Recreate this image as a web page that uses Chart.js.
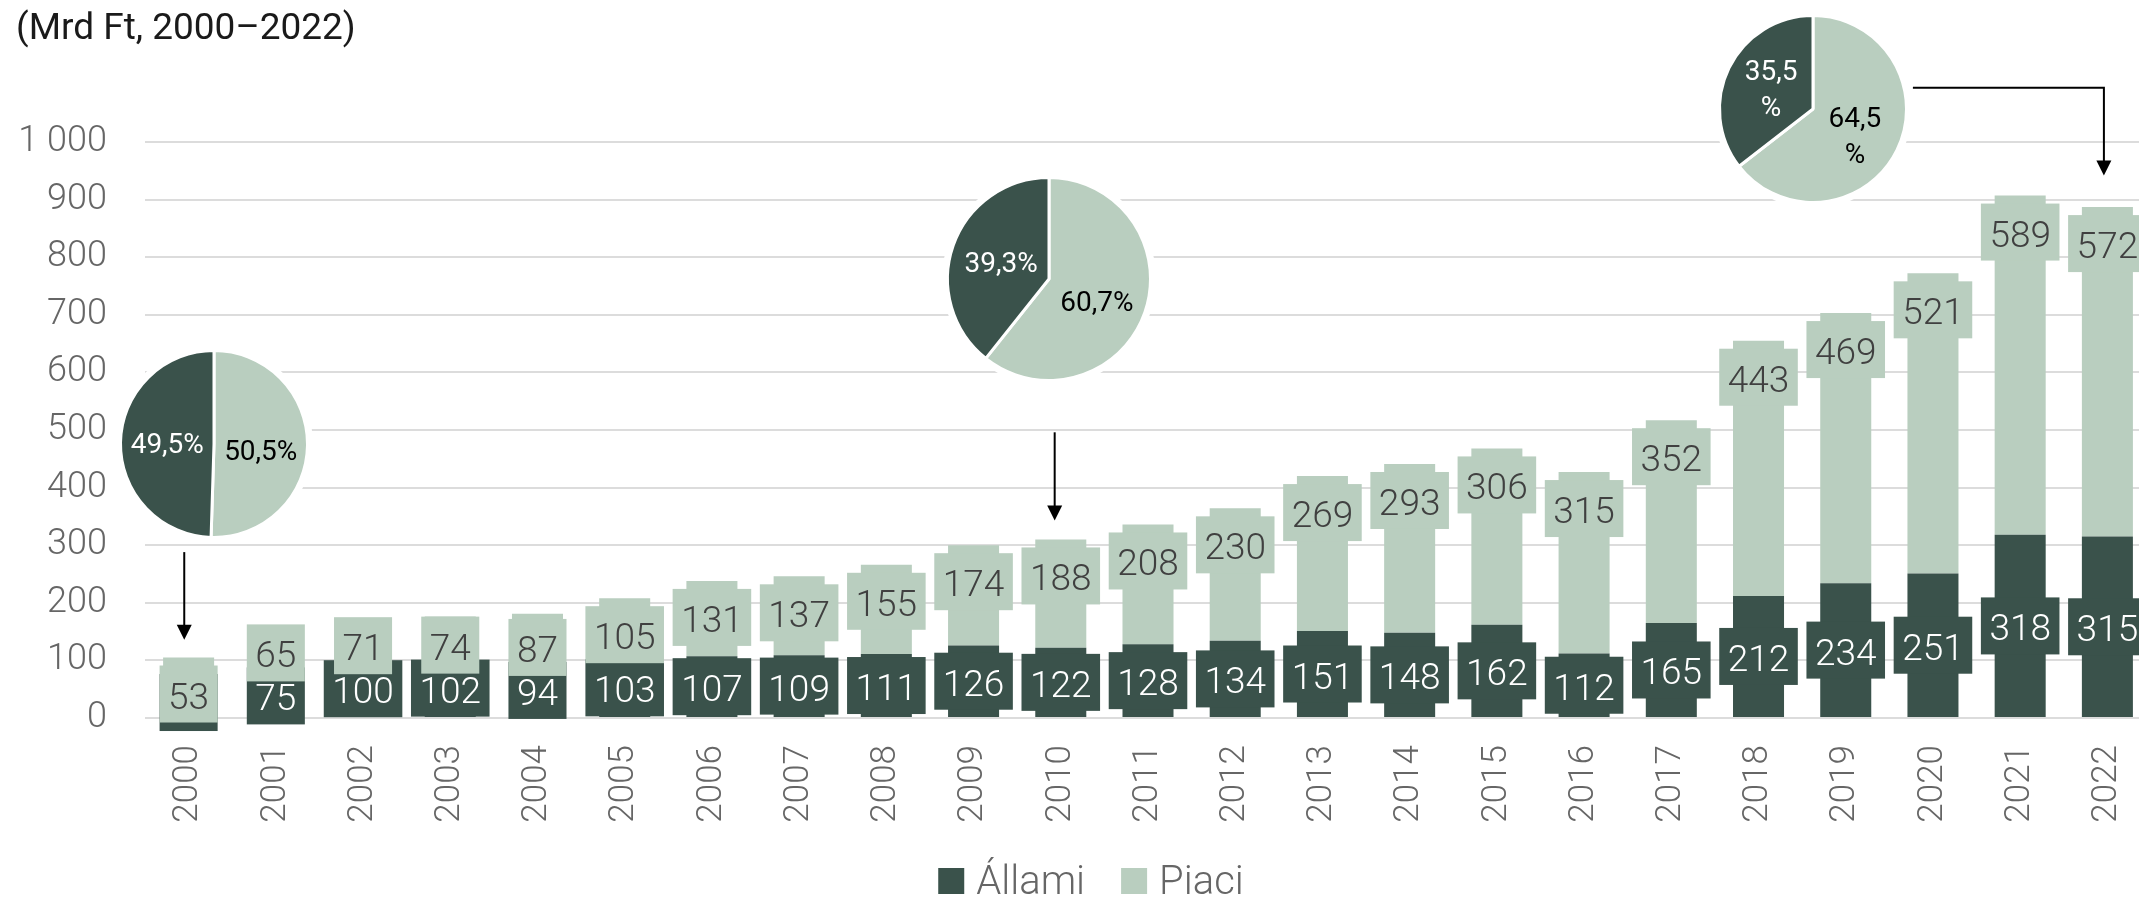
<!DOCTYPE html>
<html>
<head>
<meta charset="utf-8">
<script src="https://cdn.jsdelivr.net/npm/chart.js@4.4.1/dist/chart.umd.min.js"></script>
<style>
  html, body { margin: 0; padding: 0; background: #ffffff; overflow: hidden; width: 2139px; height: 898px; }
  #wrap { position: relative; width: 2182px; height: 898px; }
  #main { position: absolute; left: 0; top: 0; }
  .pie { position: absolute; }
</style>
</head>
<body>
<div id="wrap"><canvas id="main" width="2182" height="898"></canvas></div>
<script>
// ---------------- DATA ----------------
const years = ['2000','2001','2002','2003','2004','2005','2006','2007','2008','2009','2010',
               '2011','2012','2013','2014','2015','2016','2017','2018','2019','2020','2021','2022'];
const allami = [52, 75, 100, 102, 94, 103, 107, 109, 111, 126, 122, 128, 134, 151, 148, 162, 112, 165, 212, 234, 251, 318, 315];
const piaci  = [53, 65, 71, 74, 87, 105, 131, 137, 155, 174, 188, 208, 230, 269, 293, 306, 315, 352, 443, 469, 521, 589, 572];
const seriesNames = ['Állami', 'Piaci'];
const yTickValues = [0, 100, 200, 300, 400, 500, 600, 700, 800, 900, 1000];
const titleText = '(Mrd Ft, 2000–2022)';

// pie insets: shares (%)
const pieYears = ['2000', '2010', '2022'];
const pieAllamiShare = [49.5, 39.3, 35.5];
const piePiaciShare  = [50.5, 60.7, 64.5];

// ---------------- STYLE / LAYOUT ----------------
const DARK = '#3A524B';
const LIGHT = '#B9CEBF';
const GRID = '#dcdcdc';
const TICK = '#666666';

// inset placement in data space (x = category index, y = value), radius in px
const pieInsets = [
  { cx: 0.29,  cy: 476,  r: 95,  wrap: false },
  { cx: 9.87,  cy: 763,  r: 103, wrap: false },
  { cx: 18.62, cy: 1058, r: 95,  wrap: true  }
];
// arrows in data space
const arrowNotes = [
  [[-0.05, 288], [-0.05, 136]],
  [[9.93, 496], [9.93, 343]],
  [[19.77, 1094], [21.96, 1094], [21.96, 942]]
];

function fmtThousands(v) {
  return String(v).replace(/\B(?=(\d{3})+(?!\d))/g, ' ');
}
function fmtPct(v) {
  return v.toFixed(1).replace('.', ',') + '%';
}

const barLabelPlugin = {
  id: 'barLabels',
  afterDatasetsDraw(chart) {
    const ctx = chart.ctx;
    ctx.save();
    ctx.font = '300 37px Roboto';
    ctx.textAlign = 'center';
    ctx.textBaseline = 'alphabetic';
    const bh = 57, padX = 8.5;
    const darkMeta = chart.getDatasetMeta(0);
    const darkCy = darkMeta.data.map(el => (el.y + el.base) / 2);
    chart.data.datasets.forEach((ds, di) => {
      const meta = chart.getDatasetMeta(di);
      meta.data.forEach((el, i) => {
        const text = String(ds.data[i]);
        const tw = ctx.measureText(text).width;
        const bw = tw + padX * 2;
        let cy;
        if (di === 0) {
          cy = darkCy[i];
        } else {
          cy = el.y + 8 + bh / 2;
          // keep clear of the label below when only a small move is needed
          const limit = darkCy[i] - 43;
          if (cy > limit && cy - limit <= 30) cy = limit;
        }
        ctx.fillStyle = di === 0 ? DARK : LIGHT;
        ctx.fillRect(el.x - bw / 2, cy - bh / 2, bw, bh);
        ctx.fillStyle = di === 0 ? '#ffffff' : '#404040';
        ctx.fillText(text, el.x, cy + 14.5);
      });
    });
    ctx.restore();
  }
};

const decorPlugin = {
  id: 'decor',
  afterDraw(chart) {
    const ctx = chart.ctx;
    const xs = chart.scales.x, ys = chart.scales.y;
    ctx.save();
    // title
    ctx.font = '400 37px Roboto';
    ctx.fillStyle = '#1a1a1a';
    ctx.textAlign = 'left';
    ctx.textBaseline = 'alphabetic';
    ctx.fillText(titleText, 16, 39);

    // arrows
    ctx.strokeStyle = '#000';
    ctx.fillStyle = '#000';
    ctx.lineWidth = 2;
    arrowNotes.forEach(pts => {
      const p = pts.map(([ix, v]) => [xs.getPixelForValue(ix), ys.getPixelForValue(v)]);
      const tip = p[p.length - 1];
      ctx.beginPath();
      ctx.moveTo(p[0][0], p[0][1]);
      for (let k = 1; k < p.length - 1; k++) ctx.lineTo(p[k][0], p[k][1]);
      ctx.lineTo(tip[0], tip[1] - 14);
      ctx.stroke();
      ctx.beginPath();
      ctx.moveTo(tip[0] - 7.5, tip[1] - 15);
      ctx.lineTo(tip[0] + 7.5, tip[1] - 15);
      ctx.lineTo(tip[0], tip[1]);
      ctx.closePath();
      ctx.fill();
    });

    // legend
    ctx.font = '300 40px Roboto';
    const box = 26, gap = 12, spacing = 36;
    const items = chart.data.datasets.map(d => ({ label: d.label, color: d.backgroundColor, w: ctx.measureText(d.label).width }));
    let total = items.reduce((s, it) => s + box + gap + it.w, 0) + spacing * (items.length - 1);
    let x = chart.width / 2 - total / 2;
    const base = 894;
    items.forEach(it => {
      ctx.fillStyle = it.color;
      ctx.fillRect(x, base - box, box, box);
      ctx.fillStyle = TICK;
      ctx.fillText(it.label, x + box + gap, base);
      x += box + gap + it.w + spacing;
    });
    ctx.restore();
  }
};

function build() {
  const main = new Chart(document.getElementById('main'), {
    type: 'bar',
    data: {
      labels: years,
      datasets: [
        { label: seriesNames[0], data: allami, backgroundColor: DARK, borderWidth: 0 },
        { label: seriesNames[1], data: piaci, backgroundColor: LIGHT, borderWidth: 0 }
      ]
    },
    options: {
      responsive: false,
      animation: false,
      devicePixelRatio: 1,
      layout: { padding: { top: 142, left: 16, right: 31, bottom: 0 } },
      datasets: { bar: { categoryPercentage: 1, barPercentage: 0.585 } },
      plugins: { legend: { display: false }, tooltip: { enabled: false }, title: { display: false } },
      scales: {
        x: {
          stacked: true,
          grid: { display: false },
          border: { display: false },
          ticks: {
            autoSkip: false, maxRotation: 90, minRotation: 90, padding: 19,
            color: TICK, font: { family: 'Roboto', size: 35, weight: 300 }
          },
          afterFit(s) { s.height = 180; }
        },
        y: {
          stacked: true, min: 0, max: 1000,
          afterBuildTicks(s) { s.ticks = yTickValues.map(v => ({ value: v })); },
          grid: { color: GRID, lineWidth: 2, drawTicks: false },
          border: { display: false },
          ticks: {
            padding: 38, color: TICK, font: { family: 'Roboto', size: 36, weight: 300 },
            callback: v => fmtThousands(v)
          },
          afterFit(s) { s.width = 129; }
        }
      }
    },
    plugins: [barLabelPlugin, decorPlugin]
  });

  const wrap = document.getElementById('wrap');
  pieInsets.forEach((ins, k) => {
    const pad = 6;
    const S = 2 * (ins.r + pad);
    const px = main.scales.x.getPixelForValue(ins.cx);
    const py = main.scales.y.getPixelForValue(ins.cy);
    const cv = document.createElement('canvas');
    cv.className = 'pie';
    cv.width = S; cv.height = S;
    cv.style.left = (px - S / 2) + 'px';
    cv.style.top = (py - S / 2) + 'px';
    wrap.appendChild(cv);
    const shares = [piePiaciShare[k], pieAllamiShare[k]];
    new Chart(cv, {
      type: 'pie',
      data: {
        labels: [seriesNames[1], seriesNames[0]],
        datasets: [{ data: shares, backgroundColor: [LIGHT, DARK], borderColor: '#ffffff', borderWidth: 3, hoverOffset: 0 }]
      },
      options: {
        responsive: false, animation: false, devicePixelRatio: 1,
        layout: { padding: pad },
        plugins: { legend: { display: false }, tooltip: { enabled: false } }
      },
      plugins: [{
        id: 'pieDecor',
        beforeDatasetsDraw(c) {
          const ctx = c.ctx;
          ctx.save();
          ctx.fillStyle = '#ffffff';
          ctx.beginPath();
          ctx.arc(S / 2, S / 2, ins.r + 4, 0, Math.PI * 2);
          ctx.fill();
          ctx.restore();
        },
        afterDatasetsDraw(c) {
          const ctx = c.ctx;
          const meta = c.getDatasetMeta(0);
          ctx.save();
          ctx.font = '400 28px Roboto';
          ctx.textAlign = 'center';
          ctx.textBaseline = 'middle';
          meta.data.forEach((arc, i) => {
            const pos = arc.tooltipPosition();
            const txt = fmtPct(shares[i]);
            const dy = i === 0 ? 8 : 3;
            ctx.fillStyle = i === 1 ? '#ffffff' : '#000000';
            if (ins.wrap) {
              const parts = [txt.slice(0, -1), '%'];
              ctx.fillText(parts[0], pos.x, pos.y + dy - 18);
              ctx.fillText(parts[1], pos.x, pos.y + dy + 18);
            } else {
              ctx.fillText(txt, pos.x, pos.y + dy);
            }
          });
          ctx.restore();
        }
      }]
    });
  });
}

if (document.fonts && document.fonts.load) {
  Promise.all([
    document.fonts.load('300 37px Roboto'),
    document.fonts.load('400 37px Roboto')
  ]).then(build, build);
} else {
  build();
}
</script>
</body>
</html>
